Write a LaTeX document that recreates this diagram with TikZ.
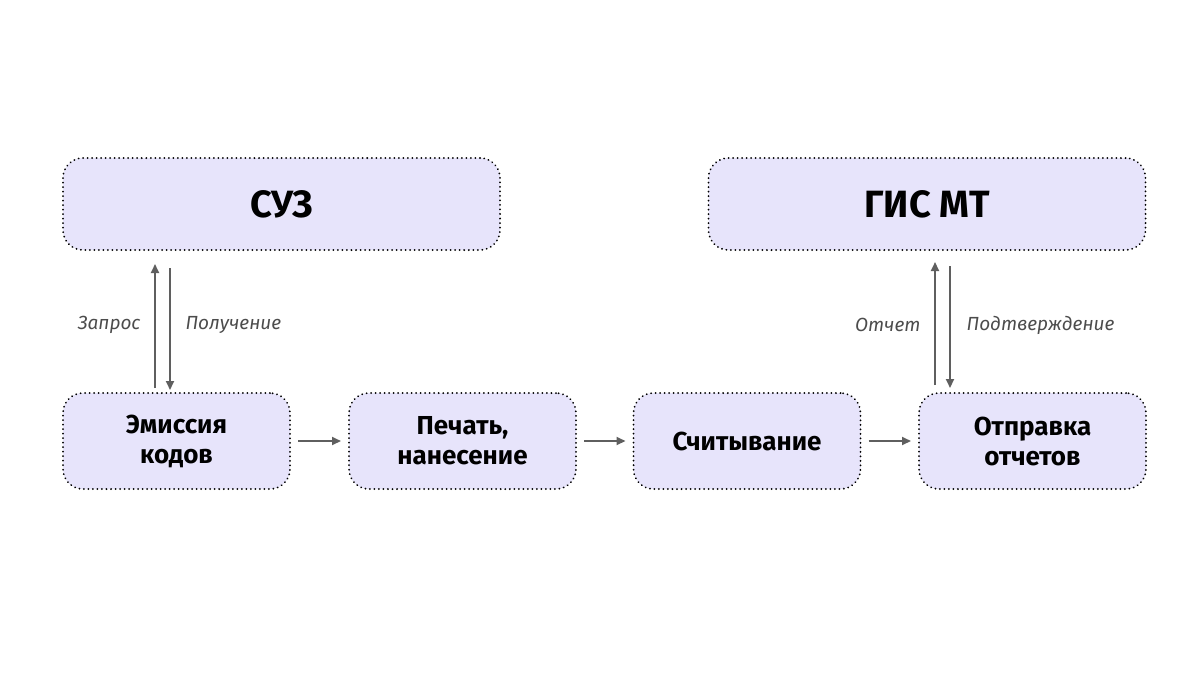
\documentclass[tikz,border=0pt]{standalone}
\usepackage{fontspec}
\setmainfont{Fira Sans}
\usetikzlibrary{arrows.meta}
\definecolor{boxfill}{HTML}{E7E4FB}
\definecolor{arr}{HTML}{5F5F5F}
\tikzset{
  box/.style={draw=black, fill=boxfill, line width=2pt, dash pattern=on 0.01pt off 4.5pt, line cap=round, rounded corners=20pt, align=center, font=\bfseries\fontsize{26}{30}\selectfont, inner sep=0pt},
  big/.style={box, font=\bfseries\fontsize{38}{44}\selectfont},
  conn/.style={draw=arr, line width=2pt, -{Triangle[length=9pt,width=8pt]}},
  lbl/.style={font=\itshape\fontsize{19}{22}\selectfont, text=black!70}
}
\begin{document}
\begin{tikzpicture}[x=1pt,y=-1pt]
\useasboundingbox (0,0) rectangle (1200,675);
\node[big, minimum width=437pt, minimum height=92pt] (suz) at (281.5,204) {СУЗ};
\node[big, minimum width=437pt, minimum height=92pt] (gis) at (927,204) {ГИС МТ};
\node[box, minimum width=227pt, minimum height=96pt] (a) at (176.5,441) {Эмиссия\\кодов};
\node[box, minimum width=227pt, minimum height=96pt] (b) at (462.5,441) {Печать,\\нанесение};
\node[box, minimum width=227pt, minimum height=96pt] (c) at (747,441) {Считывание};
\node[box, minimum width=227pt, minimum height=96pt] (d) at (1032.5,441) {Отправка\\отчетов};
\coordinate (a1) at (155,388); \coordinate (s1) at (155,264);
\coordinate (s2) at (170,268); \coordinate (a2) at (170,390);
\draw[conn] (a1) -- (s1);
\draw[conn] (s2) -- (a2);
\coordinate (d1) at (935,385); \coordinate (g1) at (935,262);
\coordinate (g2) at (950,266); \coordinate (d2) at (950,388);
\draw[conn] (d1) -- (g1);
\draw[conn] (g2) -- (d2);
\node[lbl, anchor=east] (l1) at (144,325) {Запрос};
\node[lbl, anchor=west] (l2) at (182,325) {Получение};
\node[lbl, anchor=east] (l3) at (924,325) {Отчет};
\node[lbl, anchor=west] (l4) at (963,325) {Подтверждение};
\draw[conn] ([xshift=7pt]a.east) -- ([xshift=-7pt]b.west);
\draw[conn] ([xshift=7pt]b.east) -- ([xshift=-7pt]c.west);
\draw[conn] ([xshift=7pt]c.east) -- ([xshift=-7pt]d.west);
\end{tikzpicture}
\end{document}
